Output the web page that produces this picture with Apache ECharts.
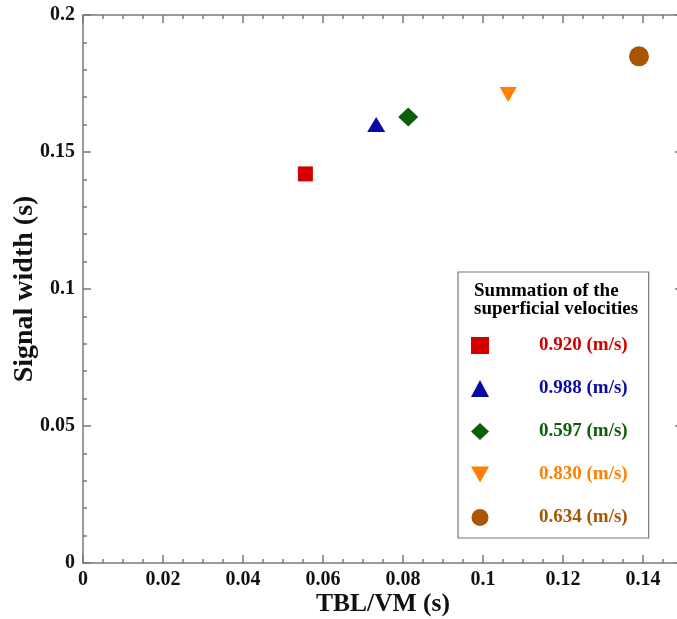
<!DOCTYPE html>
<html>
<head>
<meta charset="utf-8">
<script src="https://cdn.jsdelivr.net/npm/echarts@6/dist/echarts.min.js"></script>
<style>html,body{margin:0;padding:0;background:#fff;}#c{width:677px;height:619px;}</style>
</head>
<body>
<div id="c"></div>
<script>
const seriesNames = ['0.920 (m/s)', '0.988 (m/s)', '0.597 (m/s)', '0.830 (m/s)', '0.634 (m/s)'];
const xValues = [0.0556, 0.0733, 0.0813, 0.1063, 0.1390];
const yValues = [0.142, 0.160, 0.1628, 0.171, 0.1849];
const colors = ['#d40000', '#0a0aa8', '#0b5e0b', '#ff8000', '#aa5500'];
const symbols = ['rect', 'triangle', 'diamond', 'triangle', 'circle'];
const legendIcons = ['rect', 'triangle', 'diamond', 'path://M0,0 L2,0 L1,1.8 Z', 'circle'];
const symbolSizes = [[15, 15], [18, 15], [20, 19], [17, 15], [20, 20]];
const symbolRotates = [0, 0, 0, 180, 0];
const xTicks = [0, 0.02, 0.04, 0.06, 0.08, 0.1, 0.12, 0.14];
const yTicks = [0, 0.05, 0.1, 0.15, 0.2];
const legendTitle = 'Summation of the\nsuperficial velocities';
const xTitle = 'TBL/VM (s)';
const yTitle = 'Signal width (s)';

const FONT = '"Liberation Serif","Times New Roman",serif';
const axisGray = '#7a7a7a';

function fmt(v){ return String(Math.round(v*1000)/1000); }

const baseX = {
  type: 'value', min: 0, max: 0.15, interval: 0.02,
  axisLine: {show: true, onZero: false, lineStyle: {color: axisGray, width: 1.5}},
  axisTick: {show: true, inside: true, length: 8, lineStyle: {color: axisGray, width: 1.5}},
  minorTick: {show: true, splitNumber: 4, length: 4, lineStyle: {color: axisGray, width: 1.5}},
  splitLine: {show: false}, minorSplitLine: {show: false}
};
const baseY = {
  type: 'value', min: 0, max: 0.2, interval: 0.05,
  axisLine: {show: true, onZero: false, lineStyle: {color: axisGray, width: 1.5}},
  axisTick: {show: true, inside: true, length: 8, lineStyle: {color: axisGray, width: 1.5}},
  minorTick: {show: true, splitNumber: 5, length: 4, lineStyle: {color: axisGray, width: 1.5}},
  splitLine: {show: false}, minorSplitLine: {show: false}
};

const chart = echarts.init(document.getElementById('c'), null, {renderer: 'canvas'});
chart.setOption({
  backgroundColor: '#fff',
  animation: false,
  textStyle: {fontFamily: FONT},
  grid: {left: 83, top: 15, width: 600, height: 548, containLabel: false, outerBoundsMode: 'none'},
  title: {
    text: legendTitle, left: 469, top: 277,
    textStyle: {fontFamily: FONT, fontWeight: 'bold', fontSize: 19, lineHeight: 18, color: '#000'}
  },
  legend: {
    orient: 'vertical', left: 458, top: 272,
    padding: [64, 21, 11, 13],
    borderColor: '#777', borderWidth: 1.2,
    itemWidth: 18, itemHeight: 17, itemGap: 24,
    data: seriesNames.map((n, i) => ({name: n, icon: legendIcons[i], textStyle: {color: colors[i]}})),
    textStyle: {fontFamily: FONT, fontWeight: 'bold', fontSize: 19, lineHeight: 17, padding: [0, 0, 0, 45]}
  },
  xAxis: [
    Object.assign({}, baseX, {
      position: 'bottom', name: xTitle, nameLocation: 'middle', nameGap: 28, nameMoveOverlap: false,
      nameTextStyle: {fontFamily: FONT, fontWeight: 'bold', fontSize: 25.5, color: '#111'},
      axisLabel: {show: true, margin: 7, fontFamily: FONT, fontWeight: 'bold', fontSize: 20, color: '#111',
        formatter: v => xTicks.some(t => Math.abs(t - v) < 1e-9) ? fmt(v) : ''}
    }),
    Object.assign({}, baseX, {position: 'top', axisLabel: {show: false}})
  ],
  yAxis: [
    Object.assign({}, baseY, {
      position: 'left', name: yTitle, nameLocation: 'middle', nameGap: 44, nameMoveOverlap: false,
      nameTextStyle: {fontFamily: FONT, fontWeight: 'bold', fontSize: 28, color: '#111'},
      axisLabel: {show: true, margin: 8, fontFamily: FONT, fontWeight: 'bold', fontSize: 20, color: '#111',
        formatter: v => yTicks.some(t => Math.abs(t - v) < 1e-9) ? fmt(v) : ''}
    }),
    Object.assign({}, baseY, {position: 'right', axisLabel: {show: false}})
  ],
  series: seriesNames.map((n, i) => ({
    name: n, type: 'scatter', xAxisIndex: 0, yAxisIndex: 0,
    symbol: symbols[i], symbolSize: symbolSizes[i], symbolRotate: symbolRotates[i],
    itemStyle: {color: colors[i], opacity: 1},
    data: [[xValues[i], yValues[i]]]
  }))
});
</script>
</body>
</html>
